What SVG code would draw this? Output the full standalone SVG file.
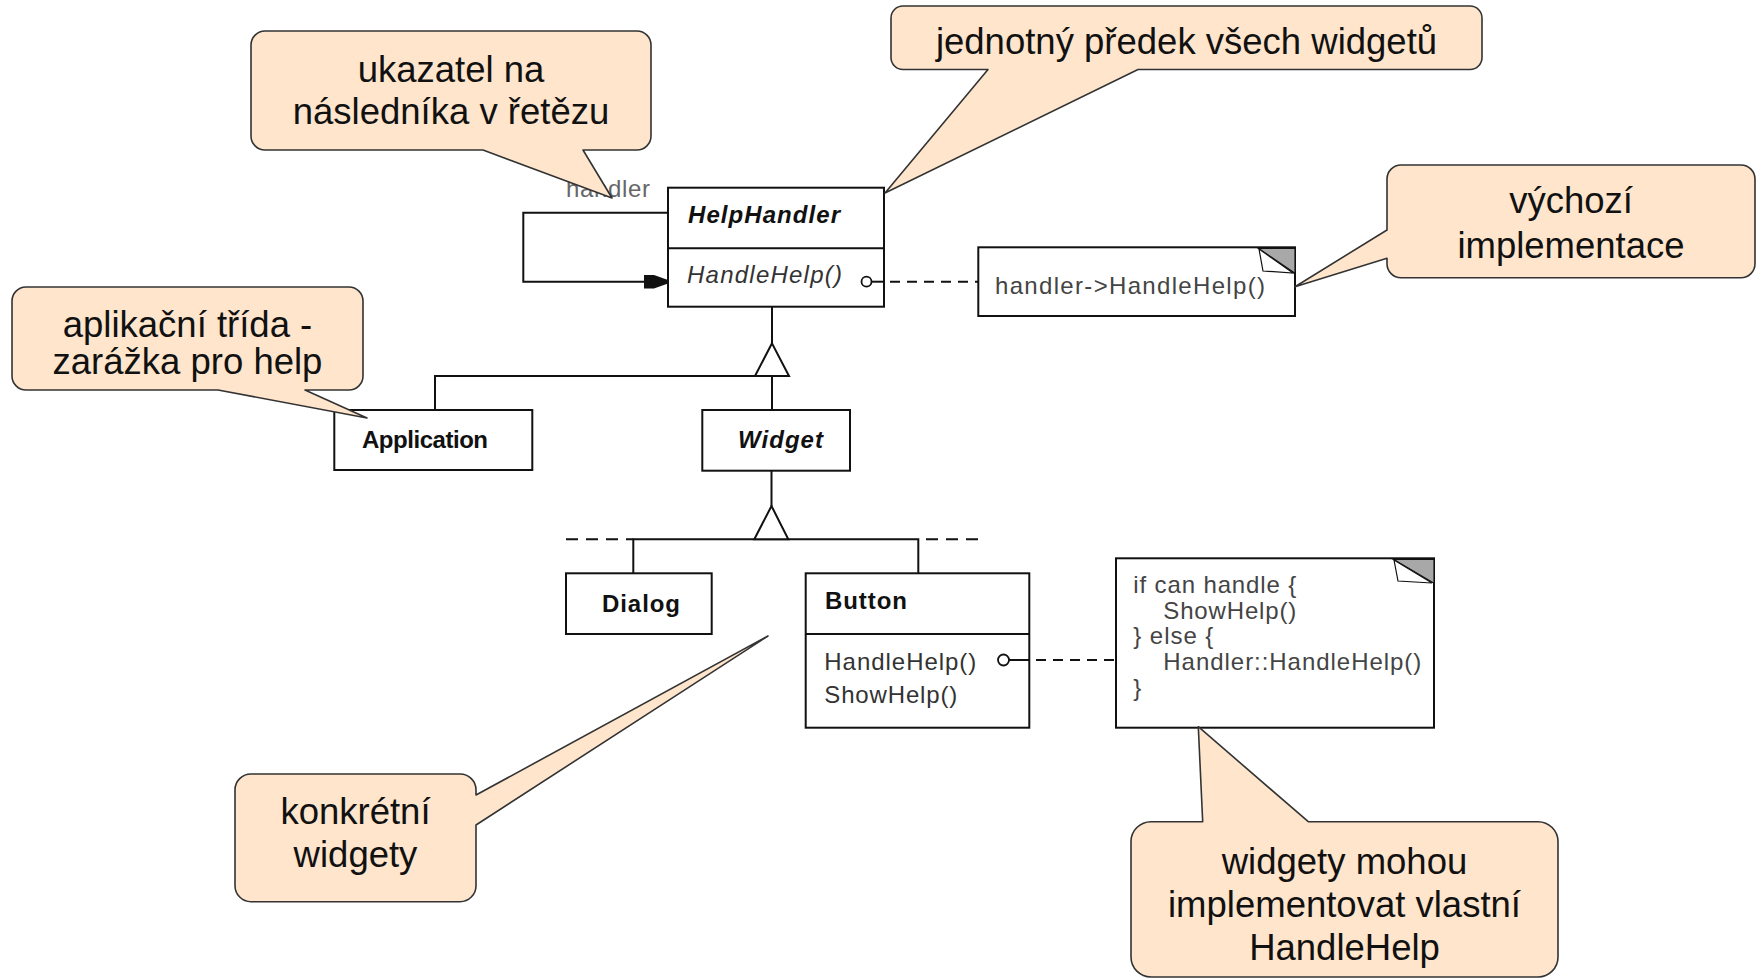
<svg xmlns="http://www.w3.org/2000/svg" width="1762" height="980" viewBox="0 0 1762 980">
<style>
.box{fill:#fff;stroke:#111;stroke-width:2}
.ln{fill:none;stroke:#111;stroke-width:2}
.dash{fill:none;stroke:#111;stroke-width:2;stroke-dasharray:10 7}
.dash2{fill:none;stroke:#111;stroke-width:2;stroke-dasharray:12 8}
.tri{fill:#fff;stroke:#111;stroke-width:2}
.call{fill:#FEE5CC;stroke:#333;stroke-width:1.6;stroke-linejoin:round}
.ct{font-family:"Liberation Sans",Arial,sans-serif;font-size:36.5px;fill:#111;text-anchor:middle}
.u{font-family:"Liberation Sans",Arial,sans-serif;font-size:24px;fill:#333}
.b{font-weight:bold;fill:#111}
.i{font-style:italic}
.n{font-family:"Liberation Sans",Arial,sans-serif;font-size:24px;fill:#444}
.ear{fill:#a8a8a8;stroke:#111;stroke-width:1.2}
.flap{fill:#fff;stroke:#111;stroke-width:1.2}
</style>
<rect x="0" y="0" width="1762" height="980" fill="#fff"/>

<g id="HelpHandler">
  <rect class="box" x="668" y="187.7" width="216" height="119"/>
  <line class="ln" x1="668" y1="248.3" x2="884" y2="248.3"/>
  <text class="u b i" x="688" y="223" textLength="152">HelpHandler</text>
  <text class="u i" x="687" y="283" textLength="155">HandleHelp()</text>
</g>

<g id="Application">
  <rect class="box" x="334.3" y="410" width="198" height="60"/>
  <text class="u b" x="362" y="448.3" textLength="126">Application</text>
</g>

<g id="Widget">
  <rect class="box" x="702.3" y="410" width="147.7" height="60.7"/>
  <text class="u b i" x="738" y="448.3" textLength="85">Widget</text>
</g>

<g id="Dialog">
  <rect class="box" x="566" y="573.3" width="145.7" height="60.7"/>
  <text class="u b" x="602" y="611.7" textLength="78">Dialog</text>
</g>

<g id="Button">
  <rect class="box" x="805.7" y="573.3" width="223.6" height="154.4"/>
  <line class="ln" x1="805.7" y1="634" x2="1029.3" y2="634"/>
  <text class="u b" x="825" y="609.3" textLength="82">Button</text>
  <text class="u" x="824.3" y="670" textLength="152">HandleHelp()</text>
  <text class="u" x="824.3" y="703.3" textLength="133">ShowHelp()</text>
</g>

<g id="note1">
  <rect class="box" x="978.3" y="247.3" width="316.7" height="68.7"/>
  <polygon class="ear" points="1258.3,248.3 1295,248.3 1295,273.3"/>
  <polygon class="flap" points="1259,249 1263,271 1293,273"/>
  <text class="n" x="995" y="294" textLength="270">handler-&gt;HandleHelp()</text>
</g>

<g id="note2">
  <rect class="box" x="1116" y="558.3" width="318" height="169.4"/>
  <polygon class="ear" points="1393.3,559.3 1434,559.3 1434,583.3"/>
  <polygon class="flap" points="1394,560 1398,581 1432,583"/>
  <text class="n" x="1133.3" y="593.3" textLength="163">if can handle {</text>
  <text class="n" x="1163.3" y="619.3" textLength="133">ShowHelp()</text>
  <text class="n" x="1133.3" y="644.3" textLength="80">} else {</text>
  <text class="n" x="1163.3" y="670" textLength="258">Handler::HandleHelp()</text>
  <text class="n" x="1133.3" y="695.5">}</text>
</g>

<g id="connectors">
  <path class="ln" d="M668,212.7 H523.3 V281.7 H648"/>
  <polygon points="644,275 654,275 668,280 668,283.5 654,288.5 644,288.5" fill="#111"/>
  <text class="u" x="566" y="197" style="fill:#666" textLength="84">handler</text>
  <circle cx="866.5" cy="281.7" r="5" fill="#fff" stroke="#111" stroke-width="1.8"/>
  <line class="ln" x1="871.5" y1="281.7" x2="884" y2="281.7"/>
  <line class="dash" x1="890" y1="281.7" x2="978" y2="281.7"/>

  <line class="ln" x1="772" y1="306.7" x2="772" y2="343.3"/>
  <path class="ln" d="M435,410 V376 H772 V410"/>
  <polygon class="tri" points="772,343.3 755,376 789,376"/>

  <line class="ln" x1="771.5" y1="470.7" x2="771.5" y2="506"/>
  <path class="ln" d="M633.3,573.3 V539.3 H918.3 V573.3"/>
  <line class="dash2" x1="566" y1="539.3" x2="633.3" y2="539.3"/>
  <line class="dash2" x1="926" y1="539.3" x2="980" y2="539.3"/>
  <polygon class="tri" points="771.5,506 754.3,539.3 788.3,539.3"/>

  <circle cx="1003.5" cy="660" r="5.5" fill="#fff" stroke="#111" stroke-width="1.8"/>
  <line class="ln" x1="1009" y1="660" x2="1029.3" y2="660"/>
  <line class="dash" x1="1036" y1="660" x2="1116" y2="660"/>
</g>

<g id="callout-ukazatel">
  <path class="call" d="M265,31 H637 A14,14 0 0 1 651,45 V136 A14,14 0 0 1 637,150 H583 L612,198 L483,150 H265 A14,14 0 0 1 251,136 V45 A14,14 0 0 1 265,31 Z"/>
  <text class="ct" x="451" y="82">ukazatel na</text>
  <text class="ct" x="451" y="124">následníka v řetězu</text>
</g>

<g id="callout-predek">
  <path class="call" d="M903,6 H1470 A12,12 0 0 1 1482,18 V57.5 A12,12 0 0 1 1470,69.5 H1138 L885,193 L988,69.5 H903 A12,12 0 0 1 891,57.5 V18 A12,12 0 0 1 903,6 Z"/>
  <text class="ct" x="1186.5" y="54">jednotný předek všech widgetů</text>
</g>

<g id="callout-vychozi">
  <path class="call" d="M1401,165 H1741 A14,14 0 0 1 1755,179 V263.7 A14,14 0 0 1 1741,277.7 H1401 A14,14 0 0 1 1387,263.7 V258.3 L1295,286.7 L1387,230 V179 A14,14 0 0 1 1401,165 Z"/>
  <text class="ct" x="1571" y="213.3">výchozí</text>
  <text class="ct" x="1571" y="258.3">implementace</text>
</g>

<g id="callout-aplikacni">
  <path class="call" d="M26,287 H349 A14,14 0 0 1 363,301 V376 A14,14 0 0 1 349,390 H305 L367,418 L218,390 H26 A14,14 0 0 1 12,376 V301 A14,14 0 0 1 26,287 Z"/>
  <text class="ct" x="187.5" y="336.5">aplikační třída -</text>
  <text class="ct" x="187.5" y="374">zarážka pro help</text>
</g>

<g id="callout-konkretni">
  <path class="call" d="M251,774 H460 A16,16 0 0 1 476,790 V795 L768,636 L476,825 V885.7 A16,16 0 0 1 460,901.7 H251 A16,16 0 0 1 235,885.7 V790 A16,16 0 0 1 251,774 Z"/>
  <text class="ct" x="355.5" y="823.5">konkrétní</text>
  <text class="ct" x="355.5" y="866.7">widgety</text>
</g>

<g id="callout-vlastni">
  <path class="call" d="M1151,821.7 H1202.7 L1198.3,726.7 L1308.3,821.7 H1538 A20,20 0 0 1 1558,841.7 V957 A20,20 0 0 1 1538,977 H1151 A20,20 0 0 1 1131,957 V841.7 A20,20 0 0 1 1151,821.7 Z"/>
  <text class="ct" x="1344.5" y="874">widgety mohou</text>
  <text class="ct" x="1344.5" y="917">implementovat vlastní</text>
  <text class="ct" x="1344.5" y="960">HandleHelp</text>
</g>
</svg>
